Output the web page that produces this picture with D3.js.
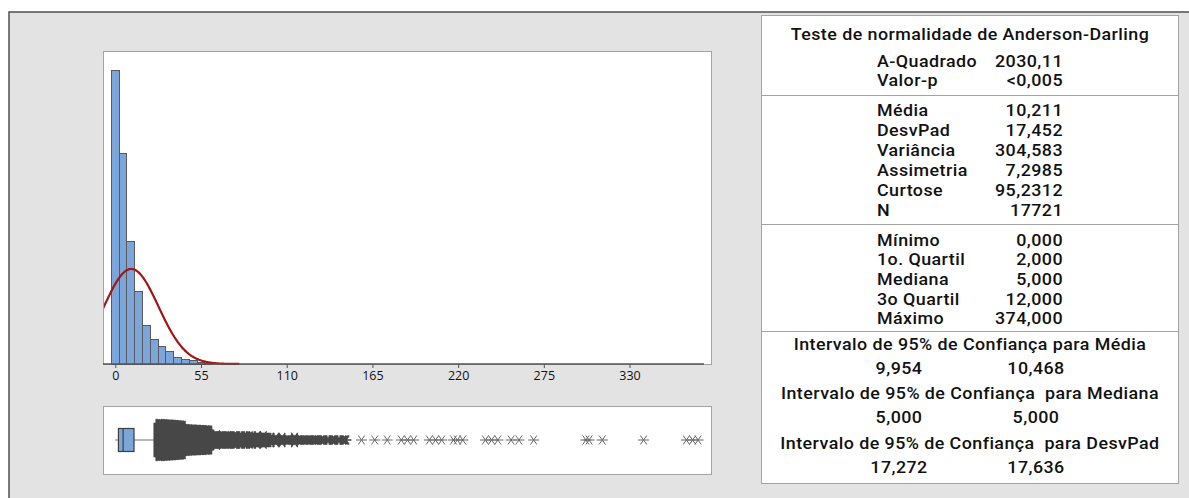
<!DOCTYPE html>
<html><head><meta charset="utf-8">
<script src="https://cdn.jsdelivr.net/npm/d3@7"></script>
<style>
html,body{margin:0;padding:0;background:#fff;}
svg{display:block;}
text{font-family:"Open Sans","Noto Sans",sans-serif;fill:#111;white-space:pre;}
.tbl text{font-family:Roboto,"Open Sans",sans-serif;}
</style></head>
<body>
<svg id="chart" width="1189" height="498"></svg>
<script>
// ---------- DATA ----------
// histogram: bin centres (width 5) and frequencies
const binWidth = 5;
const binCenters = d3.range(0, 380, 5);
const binCounts = [6262, 4494, 2620, 1555, 831, 518, 368, 256, 141, 92, 64, 34, 21, 14, 10, 7,
  6, 5, 5, 4, 4, 3, 3, 3, 2, 2, 2, 2, 2, 1, 1, 1, 1, 1, 0, 1, 0, 2, 1, 0, 1, 2, 1, 0,
  2, 1, 2, 0, 1, 0, 1, 1, 0, 1, 0, 0, 0, 0, 0, 0, 2, 1, 1, 0, 0, 0, 0, 0, 1, 0, 0, 0, 0, 1, 2, 1];
const N = 17721, mean = 10.211, sd = 17.452;
const xTicks = [0, 55, 110, 165, 220, 275, 330];
// boxplot summary
const minimum = 0, q1 = 2, median = 5, q3 = 12, whiskerHigh = 27;
// outliers: dense part, one count per integer value starting at 28
const denseStart = 28;
const denseCounts = [
  80, 78, 76, 74, 72, 70, 68, 66, 64, 62, 60, 58, 56, 54, 52, 50,
  20, 20, 19, 19, 18, 18, 18, 17, 17, 17, 16, 16, 16, 15, 15, 15, 14,
  4, 3, 3, 3, 4, 3, 3, 3, 3, 2, 3, 3, 3, 3, 2, 3, 3, 3, 2, 3, 3, 2, 3, 3, 2, 3, 2, 3, 2, 2, 3, 2, 2, 2, 3, 2, 2,
  2, 1, 2, 1, 1, 2, 1, 1, 1, 2, 1, 1, 1, 1, 0, 1, 1, 2, 1, 1, 1, 1, 0, 1, 1, 1, 1, 1, 0, 1, 1, 1, 1, 0, 1, 1, 1, 0, 1, 1, 0, 1, 1, 1, 0, 1, 1, 0, 1, 1, 1];
// sparse outliers (individual values)
const sparseOutliers = [158, 166.5, 174.5, 183.5, 187.5, 191.5, 201.5, 205.5, 209.5, 217, 219.5, 223,
  237.5, 241.5, 245.5, 254, 259, 268.5, 302, 304, 312.5, 339, 366.5, 370.5, 374];
// statistics table
const adTitle = "Teste de normalidade de Anderson-Darling";
const adLabels = ["A-Quadrado", "Valor-p"];
const adValues = ["2030,11", "<0,005"];
const momentLabels = ["Média", "DesvPad", "Variância", "Assimetria", "Curtose", "N"];
const momentValues = ["10,211", "17,452", "304,583", "7,2985", "95,2312", "17721"];
const quantLabels = ["Mínimo", "1o. Quartil", "Mediana", "3o Quartil", "Máximo"];
const quantValues = ["0,000", "2,000", "5,000", "12,000", "374,000"];
const ciTitles = ["Intervalo de 95% de Confiança para Média",
  "Intervalo de 95% de Confiança  para Mediana",
  "Intervalo de 95% de Confiança  para DesvPad"];
const ciLow = ["9,954", "5,000", "17,272"];
const ciHigh = ["10,468", "5,000", "17,636"];

// ---------- DRAW ----------
const svg = d3.select("#chart");
const BG = "#e3e3e3", BAR = "#7ca6da", DARK = "#555", PANEL_STROKE = "#a3a3a3";

svg.append("rect").attr("x", 9).attr("y", 12).attr("width", 1300).attr("height", 600)
  .attr("fill", BG).attr("stroke", "#505050").attr("stroke-width", 1.5);

const hist = {x: 103, y: 51, w: 608, h: 313};
const boxP = {x: 103, y: 406, w: 608, h: 68};

const x = d3.scaleLinear().domain([-7.9, 377.8]).range([103, 704]);
const y = d3.scaleLinear().domain([0, 6670]).range([hist.y + hist.h, hist.y]);

// histogram panel
svg.append("rect").attr("x", hist.x + 0.5).attr("y", hist.y + 0.5).attr("width", hist.w).attr("height", hist.h)
  .attr("fill", "#fff").attr("stroke", PANEL_STROKE);

svg.append("clipPath").attr("id", "hclip").append("rect")
  .attr("x", hist.x + 1).attr("y", hist.y + 1).attr("width", hist.w - 1).attr("height", hist.h);

const bins = binCenters.map((c, i) => ({c, n: binCounts[i] || 0})).filter(d => d.n > 0);
svg.append("g").selectAll("rect").data(bins).join("rect")
  .attr("x", d => x(d.c - binWidth / 2))
  .attr("width", d => x(d.c + binWidth / 2) - x(d.c - binWidth / 2))
  .attr("y", d => y(d.n))
  .attr("height", d => y(0) - y(d.n))
  .attr("fill", BAR)
  .attr("stroke", d => (y(0) - y(d.n)) >= 0.8 ? "#5a5a5a" : "none").attr("stroke-width", 1)
  .attr("shape-rendering", "crispEdges");

// fitted normal curve
const curveXs = d3.range(-7.9, 80, 0.5);
const dens = v => N * binWidth / (sd * Math.sqrt(2 * Math.PI)) * Math.exp(-0.5 * ((v - mean) / sd) ** 2);
svg.append("path").datum(curveXs)
  .attr("clip-path", "url(#hclip)")
  .attr("d", d3.line().x(v => x(v)).y(v => y(dens(v))))
  .attr("fill", "none").attr("stroke", "#a11616").attr("stroke-width", 2.2);

// x axis
const axis = svg.append("g").attr("transform", `translate(0,${hist.y + hist.h})`)
  .call(d3.axisBottom(x).tickValues(xTicks).tickSize(4).tickPadding(3).tickFormat(d3.format("d")));
axis.select(".domain").attr("stroke", DARK).attr("stroke-width", 1.5).attr("d", `M${x.range()[0]},0H${x.range()[1]}`);
axis.selectAll(".tick line").attr("stroke", DARK);
axis.selectAll(".tick text").attr("font-size", 12.5).attr("font-family", "Open Sans, sans-serif").attr("fill", "#111");

// boxplot panel
svg.append("rect").attr("x", boxP.x + 0.5).attr("y", boxP.y + 0.5).attr("width", boxP.w).attr("height", boxP.h)
  .attr("fill", "#fff").attr("stroke", PANEL_STROKE);
const cy = 440;
const bg = svg.append("g");
bg.append("line").attr("x1", x(minimum)).attr("x2", x(q1)).attr("y1", cy).attr("y2", cy).attr("stroke", "#888").attr("stroke-width", 1.2);
bg.append("line").attr("x1", x(q3)).attr("x2", x(whiskerHigh)).attr("y1", cy).attr("y2", cy).attr("stroke", "#888").attr("stroke-width", 1.2);
bg.append("rect").attr("x", x(q1)).attr("y", cy - 11.5).attr("width", x(q3) - x(q1)).attr("height", 23)
  .attr("fill", BAR).attr("stroke", "#3e3e3e").attr("stroke-width", 1.2);
bg.append("line").attr("x1", x(median)).attr("x2", x(median)).attr("y1", cy - 11.5).attr("y2", cy + 11.5)
  .attr("stroke", "#3e3e3e").attr("stroke-width", 1.2);

// outliers as asterisks
const hScale = d3.scaleLog().domain([1, 80]).range([11, 44]).clamp(true);
function asterisk(cx, cyy) {
  return `M${cx - 3.2},${cyy - 4.5}L${cx + 3.2},${cyy + 4.5}M${cx - 3.2},${cyy + 4.5}L${cx + 3.2},${cyy - 4.5}M${cx - 5.5},${cyy}L${cx + 5.5},${cyy}`;
}
let p = "";
denseCounts.forEach((n, i) => {
  if (!n) return;
  const v = denseStart + i;
  const h = hScale(n);
  const half = (h - 11) / 2;
  for (let o = -half; o <= half + 0.01; o += 1) p += asterisk(x(v), cy + o);
  p += asterisk(x(v), cy + half);
});
let ps = "";
sparseOutliers.forEach(v => { ps += asterisk(x(v), cy); });
bg.append("path").attr("d", p).attr("stroke", "#474747").attr("stroke-width", 1.3).attr("fill", "none");
bg.append("path").attr("d", ps).attr("stroke", "#666").attr("stroke-width", 1).attr("fill", "none");

// table panel
const T = {x: 761, y: 15, w: 417, h: 468};
svg.append("rect").attr("x", T.x + 0.5).attr("y", T.y + 0.5).attr("width", T.w).attr("height", T.h)
  .attr("fill", "#fff").attr("stroke", PANEL_STROKE);
[95, 224, 331].forEach(yy => svg.append("line").attr("x1", T.x).attr("x2", T.x + T.w).attr("y1", yy + 0.5).attr("y2", yy + 0.5)
  .attr("stroke", PANEL_STROKE));

const tg = svg.append("g").attr("class", "tbl").attr("font-size", 16).attr("font-weight", 500).attr("letter-spacing", 0.4);
const midX = T.x + T.w / 2 + 0.5, labX = 877, valX = 1063;
tg.append("text").attr("x", midX).attr("y", 34).attr("dy", "0.35em").attr("text-anchor", "middle").text(adTitle);
function rows(labels, values, y0, step) {
  labels.forEach((l, i) => {
    tg.append("text").attr("x", labX).attr("y", y0 + i * step).attr("dy", "0.35em").text(l);
    tg.append("text").attr("x", valX).attr("y", y0 + i * step).attr("dy", "0.35em").attr("text-anchor", "end").text(values[i]);
  });
}
rows(adLabels, adValues, 61, 19);
rows(momentLabels, momentValues, 110, 20);
rows(quantLabels, quantValues, 240, 19.7);
ciTitles.forEach((t, i) => {
  const y0 = 344.5 + i * 49.3;
  tg.append("text").attr("x", midX).attr("y", y0).attr("dy", "0.35em").attr("text-anchor", "middle").text(t);
  tg.append("text").attr("x", 899).attr("y", y0 + 24).attr("dy", "0.35em").attr("text-anchor", "middle").text(ciLow[i]);
  tg.append("text").attr("x", 1036).attr("y", y0 + 24).attr("dy", "0.35em").attr("text-anchor", "middle").text(ciHigh[i]);
});
// widen glyphs slightly to match the reference's wider typeface
tg.selectAll("text").each(function () {
  const len = this.getComputedTextLength();
  d3.select(this).attr("textLength", len * 1.115).attr("lengthAdjust", "spacingAndGlyphs");
});
</script>
</body></html>
